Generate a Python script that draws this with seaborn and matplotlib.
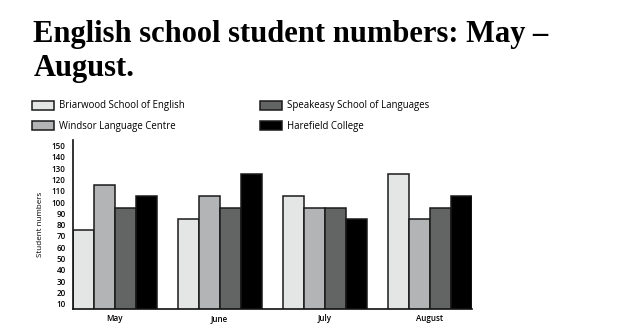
import matplotlib
matplotlib.use("Agg")
import matplotlib.pyplot as plt
import seaborn as sns
import pandas as pd

months = ["May", "June", "July", "August"]
schools = ["Briarwood School of English", "Windsor Language Centre",
           "Speakeasy School of Languages", "Harefield College"]
briarwood = [75, 85, 105, 125]
windsor = [115, 105, 95, 85]
speakeasy = [95, 95, 95, 95]
harefield = [105, 125, 85, 105]
yticks = list(range(10, 151, 10))
title_lines = ["English school student numbers: May –", "August."]

rows = []
for s, vals in zip(schools, [briarwood, windsor, speakeasy, harefield]):
    for m, v in zip(months, vals):
        rows.append({"Month": m, "School": s, "Students": v})
df = pd.DataFrame(rows)

sns.set_theme(style="white")
plt.rcParams["font.family"] = ["Open Sans", "DejaVu Sans"]
plt.rcParams["text.color"] = "black"
plt.rcParams["axes.labelcolor"] = "black"
plt.rcParams["xtick.color"] = "black"
plt.rcParams["ytick.color"] = "black"

fig = plt.figure(figsize=(6.4, 3.24), dpi=100)
ax = fig.add_axes([0.1136, 0.0463, 0.737 - 0.1136, 0.568 - 0.0463])

palette = ["#e4e5e5", "#b3b4b6", "#636564", "#000000"]
sns.barplot(data=df, x="Month", y="Students", hue="School", order=months,
            hue_order=schools, palette=palette, edgecolor="#1a1a1a",
            linewidth=1.1, saturation=1, ax=ax)

ax.set_xlim(-0.4, 3.4)
ax.set_ylim(5.3, 155)
ax.set_yticks(yticks)
ax.set_yticklabels([str(t) for t in yticks], fontsize=5.8, fontweight="semibold")
ax.tick_params(axis="y", length=0, pad=5)
ax.tick_params(axis="x", length=0, pad=3.5)
for lbl in ax.get_xticklabels():
    lbl.set_fontsize(5.8)
    lbl.set_fontweight("semibold")
ax.set_xlabel("")
ax.set_ylabel("Student numbers", fontsize=5.8, labelpad=6)
for side in ["top", "right"]:
    ax.spines[side].set_visible(False)
for side in ["left", "bottom"]:
    ax.spines[side].set_color("#111111")
    ax.spines[side].set_linewidth(1.2)

leg = ax.get_legend()
handles = leg.legend_handles
leg.remove()
fig.legend(handles, schools, loc="upper left", bbox_to_anchor=(0.05, 0.69),
           ncol=2, frameon=False, fontsize=6.9, handlelength=2.3,
           handleheight=1.05, handletextpad=0.5, labelspacing=0.95,
           columnspacing=7.9, borderpad=0, borderaxespad=0)

fig.text(0.052, 0.871, title_lines[0], fontsize=22, fontweight="bold",
         family="Liberation Serif", va="baseline", ha="left", color="black")
fig.text(0.052, 0.765, title_lines[1], fontsize=22, fontweight="bold",
         family="Liberation Serif", va="baseline", ha="left", color="black")

fig.savefig("out.png", dpi=100)
